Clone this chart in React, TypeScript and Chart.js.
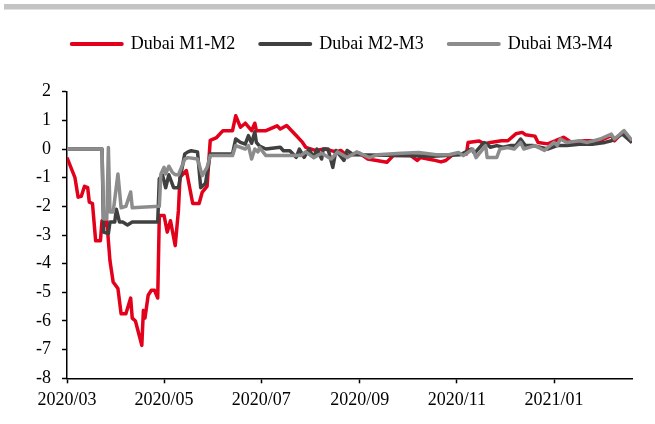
import React, { useEffect, useRef } from "react";
import { Chart, registerables } from "chart.js";

Chart.register(...registerables);

// x values: days since 2020-03-01
const monthTickDays = [0, 61, 122, 184, 245, 306];
const monthTickLabels = ["2020/03", "2020/05", "2020/07", "2020/09", "2020/11", "2021/01"];
const yTicks = [-8, -7, -6, -5, -4, -3, -2, -1, 0, 1, 2];

const seriesNames = ["Dubai M1-M2", "Dubai M2-M3", "Dubai M3-M4"];

const m1m2Days = [0, 5, 7, 9, 11, 13, 14, 16, 18, 21, 22, 23, 25, 27, 29, 32, 34, 37, 40, 41, 43, 47, 48, 49, 51, 53, 55, 57, 58, 61, 63, 65, 68, 70, 71, 75, 79, 83, 85, 88, 90, 94, 98, 104, 106, 109, 112, 116, 118, 119, 125, 132, 134, 138, 144, 148, 150, 156, 162, 169, 172, 176, 184, 189, 201, 205, 216, 220, 222, 230, 235, 238, 243, 251, 252, 259, 262, 266, 273, 277, 282, 286, 288, 294, 296, 302, 307, 312, 317, 325, 335, 342, 344, 349, 355];
const m1m2Vals = [-0.3, -1.0, -1.68, -1.65, -1.3, -1.35, -1.85, -1.9, -3.2, -3.2, -2.5, -2.7, -2.5, -3.9, -4.64, -4.87, -5.75, -5.75, -5.2, -5.9, -6.0, -6.85, -5.63, -5.9, -5.1, -4.93, -4.93, -5.2, -2.32, -2.32, -2.9, -2.5, -3.37, -2.15, -0.99, -0.75, -1.9, -1.9, -1.5, -1.3, 0.3, 0.4, 0.64, 0.64, 1.16, 0.76, 0.9, 0.64, 0.9, 0.64, 0.64, 0.81, 0.7, 0.82, 0.47, 0.23, 0.06, -0.05, 0.0, -0.1, -0.05, -0.23, -0.15, -0.35, -0.46, -0.23, -0.23, -0.4, -0.3, -0.38, -0.45, -0.4, -0.17, -0.17, 0.23, 0.28, 0.18, 0.23, 0.29, 0.29, 0.53, 0.58, 0.5, 0.45, 0.23, 0.18, 0.29, 0.41, 0.23, 0.29, 0.29, 0.47, 0.29, 0.58, 0.23];

const m2m3Days = [0, 22, 23, 26, 27, 30, 31, 33, 35, 38, 41, 57, 58, 60, 62, 64, 67, 70, 74, 76, 78, 82, 84, 87, 90, 104, 106, 109, 112, 114, 116, 118, 119, 121, 125, 134, 136, 140, 144, 146, 149, 152, 155, 157, 160, 161, 164, 167, 169, 174, 176, 180, 210, 230, 247, 254, 256, 262, 264, 266, 270, 274, 279, 282, 285, 288, 293, 302, 308, 314, 322, 330, 338, 342, 349, 355];
const m2m3Vals = [0, 0, -2.9, -2.95, -2.55, -2.55, -2.1, -2.55, -2.55, -2.65, -2.55, -2.55, -1.04, -0.9, -1.35, -0.9, -1.35, -1.35, -0.17, -0.1, -0.06, -0.1, -1.35, -1.2, -0.17, -0.17, 0.35, 0.23, 0.17, 0.47, 0.2, 0.6, 0.23, 0.1, 0.0, 0.06, -0.06, -0.06, -0.29, 0.0, -0.29, 0.0, -0.29, 0.0, -0.35, 0.0, 0.0, -0.64, -0.05, -0.4, -0.05, -0.2, -0.23, -0.25, -0.2, 0.0, -0.15, 0.23, 0.17, 0.06, 0.12, 0.06, 0.12, 0.12, 0.35, 0.12, 0.12, 0.0, 0.12, 0.12, 0.17, 0.17, 0.23, 0.29, 0.52, 0.23];

const m3m4Days = [0, 22, 23, 25, 26, 27, 29, 32, 34, 37, 40, 41, 58, 59, 61, 62, 64, 66, 68, 70, 74, 76, 82, 85, 88, 90, 104, 106, 112, 114, 116, 118, 120, 121, 125, 133, 147, 150, 155, 160, 166, 170, 176, 182, 190, 195, 210, 221, 232, 240, 246, 249, 255, 257, 263, 264, 270, 272, 277, 281, 285, 287, 294, 300, 306, 308, 310, 314, 322, 327, 335, 342, 344, 350, 355];
const m3m4Vals = [0, 0, -2.44, -2.44, 0.05, -2.2, -2.2, -0.87, -2.05, -2.0, -1.5, -2.05, -2.0, -0.87, -0.64, -0.87, -0.6, -0.8, -0.9, -0.9, -0.35, -0.3, -0.35, -0.93, -0.64, -0.23, -0.23, 0.12, 0.0, 0.12, -0.35, 0.0, -0.1, 0.05, -0.23, -0.23, -0.23, -0.1, -0.3, -0.15, -0.35, -0.1, -0.3, -0.1, -0.3, -0.2, -0.15, -0.12, -0.2, -0.2, -0.12, -0.23, 0.0, -0.3, 0.12, -0.3, -0.3, 0.0, 0.05, 0.0, 0.23, 0.0, 0.12, -0.05, 0.23, 0.12, 0.35, 0.23, 0.29, 0.23, 0.35, 0.52, 0.35, 0.64, 0.3];

const FONT = "'Liberation Serif', 'Times New Roman', serif";

function toPoints(days: number[], vals: number[]) {
  return days.map((d, i) => ({ x: d, y: vals[i] }));
}

const topBar = {
  id: "topBar",
  beforeDraw(chart: any) {
    const ctx = chart.ctx;
    ctx.save();
    ctx.fillStyle = "#c4c4c4";
    ctx.fillRect(4, 4, 651, 5.5);
    ctx.restore();
  },
};

const legendAdjust = {
  id: "legendAdjust",
  beforeInit(chart: any) {
    const legend = chart.legend;
    if (!legend) return;
    const fit = legend.fit;
    legend.fit = function () {
      fit.call(this);
      this.height += 28.7;
    };
    const draw = legend.draw;
    legend.draw = function (...args: any[]) {
      const ctx = this.ctx;
      ctx.save();
      ctx.translate(26, 0);
      draw.apply(this, args);
      ctx.restore();
    };
  },
};

export default function App() {
  const ref = useRef<HTMLCanvasElement | null>(null);

  useEffect(() => {
    if (!ref.current) return;
    const colors = ["#e3001b", "#404040", "#8c8c8c"];
    const common = { borderWidth: 3.5, pointRadius: 0, tension: 0, borderJoinStyle: "round" };
    const chart = new Chart(ref.current, {
      type: "line",
      data: {
        datasets: [
          { ...common, label: seriesNames[0], data: toPoints(m1m2Days, m1m2Vals), borderColor: colors[0], backgroundColor: colors[0], order: 3 },
          { ...common, label: seriesNames[1], data: toPoints(m2m3Days, m2m3Vals), borderColor: colors[1], backgroundColor: colors[1], order: 2 },
          { ...common, label: seriesNames[2], data: toPoints(m3m4Days, m3m4Vals), borderColor: colors[2], backgroundColor: colors[2], order: 1 },
        ],
      },
      options: {
        responsive: false,
        animation: false,
        events: [],
        layout: { padding: { left: 0, right: 23, top: 10, bottom: 0 } },
        plugins: {
          tooltip: { enabled: false },
          legend: {
            display: true,
            position: "top",
            align: "center",
            labels: {
              usePointStyle: true,
              pointStyleWidth: 50,
              padding: 25,
              color: "#000",
              font: { family: FONT, size: 18 },
              generateLabels: (c: any) =>
                c.data.datasets.map((ds: any, i: number) => ({
                  text: ds.label,
                  fillStyle: ds.borderColor,
                  strokeStyle: ds.borderColor,
                  lineWidth: 4,
                  lineCap: "round",
                  pointStyle: "line",
                  hidden: false,
                  datasetIndex: i,
                  fontColor: "#000",
                })),
            },
          },
        },
        scales: {
          x: {
            type: "linear",
            min: 0,
            max: 355,
            afterBuildTicks: (scale: any) => {
              scale.ticks = monthTickDays.map((v) => ({ value: v }));
            },
            afterFit: (scale: any) => {
              scale.height = 45.7;
            },
            ticks: {
              autoSkip: false,
              maxRotation: 0,
              padding: 6,
              color: "#000",
              font: { family: FONT, size: 18 },
              callback: (v: any) => {
                const i = monthTickDays.indexOf(Number(v));
                return i >= 0 ? monthTickLabels[i] : "";
              },
            },
            grid: { display: true, drawOnChartArea: false, drawTicks: true, tickLength: 5, tickColor: "#000", tickWidth: 1.5 },
            border: { display: true, color: "#000", width: 1.5 },
          },
          y: {
            min: -8,
            max: 2,
            afterBuildTicks: (scale: any) => {
              scale.ticks = yTicks.map((v) => ({ value: v }));
            },
            afterFit: (scale: any) => {
              scale.width = 67;
            },
            ticks: {
              autoSkip: false,
              padding: 11,
              color: "#000",
              font: { family: FONT, size: 18 },
            },
            grid: { display: true, drawOnChartArea: false, drawTicks: true, tickLength: 5, tickColor: "#000", tickWidth: 1.5 },
            border: { display: true, color: "#000", width: 1.5 },
          },
        },
      },
      plugins: [topBar, legendAdjust],
    } as any);
    return () => chart.destroy();
  }, []);

  return (
    <div style={{ position: "absolute", left: 0, top: 0, width: 655, height: 424, background: "#fff" }}>
      <canvas ref={ref} width={655} height={424} />
    </div>
  );
}
